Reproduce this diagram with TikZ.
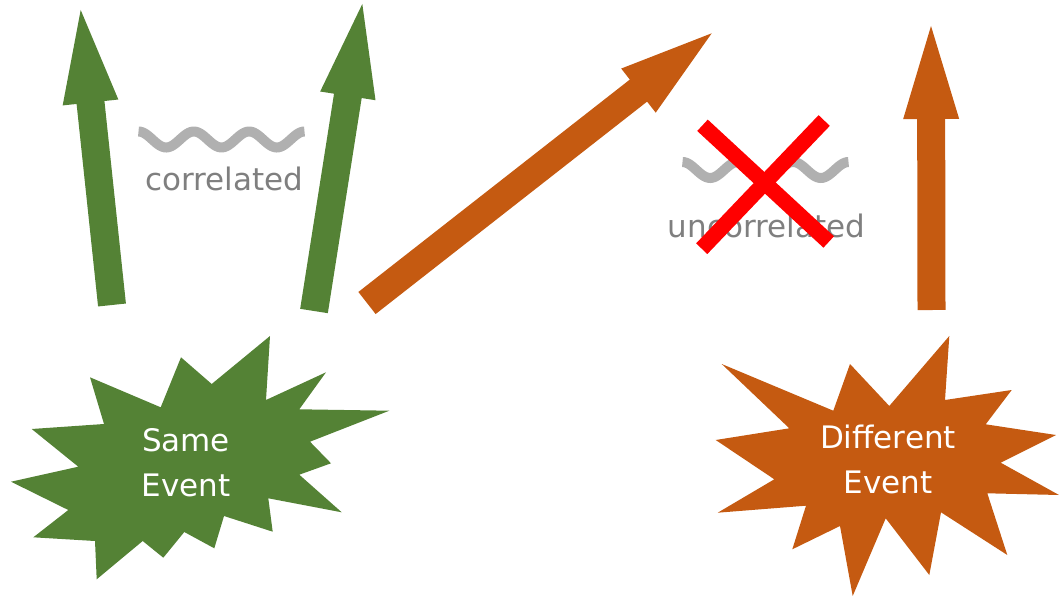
\documentclass[tikz,border=0pt]{standalone}
\usepackage{fontspec}
\setmainfont{DejaVu Sans}
\usepackage{xcolor}
\definecolor{leafgreen}{HTML}{548235}
\definecolor{rust}{HTML}{C55A11}
\definecolor{wavegray}{HTML}{B0B0B0}
\definecolor{labelgray}{HTML}{7F7F7F}
\definecolor{crossred}{HTML}{FF0000}
\usepackage{tikz}
\usetikzlibrary{calc}
\tikzset{
    green_burst/.style={fill=leafgreen},
    orange_burst/.style={fill=rust},
    event_text/.style={text=white, align=center, font=\fontsize{31}{45}\selectfont},
    corr_text/.style={text=labelgray, anchor=base, font=\fontsize{31}{37}\selectfont},
    wiggle/.style={draw=wavegray, line width=10pt},
    cross_line/.style={draw=crossred, line width=15.5pt}
}
% fat arrow: [colour] {tail} {tip}
\newcommand{\fatarrow}[3][]{%
  \coordinate (head_base) at ($(#3)!93pt!(#2)$);
  \fill[#1] ($(#2)!14pt!90:(#3)$) -- ($(head_base)!14pt!90:(#3)$) -- ($(head_base)!28pt!90:(#3)$) -- (#3)
    -- ($(head_base)!28pt!-90:(#3)$) -- ($(head_base)!14pt!-90:(#3)$) -- ($(#2)!14pt!-90:(#3)$) -- cycle;
}

\begin{document}
\begin{tikzpicture}[x=1pt, y=-1pt]
  \useasboundingbox (0,0) rectangle (1059,596);

  % Arrow end points
  \coordinate (gl_tail) at (112,305);
  \coordinate (gl_tip) at (80.7,10);
  \coordinate (gr_tail) at (314,311);
  \coordinate (gr_tip) at (362.3,4);
  \coordinate (od_tail) at (367,303);
  \coordinate (od_tip) at (711.7,33.3);
  \coordinate (ov_tail) at (931.5,310);
  \coordinate (ov_tip) at (931,26);

  \fatarrow[leafgreen]{gl_tail}{gl_tip}
  \fatarrow[leafgreen]{gr_tail}{gr_tip}
  \fatarrow[rust]{od_tail}{od_tip}
  \fatarrow[rust]{ov_tail}{ov_tip}

  % Same event burst
  \fill[green_burst] (270,336) -- (266,400) -- (326,372.3) -- (299.3,409.3) -- (389.3,410.7)
    -- (310,441.7) -- (331,463.3) -- (299.3,474.7) -- (341.7,512.3) -- (268.3,498.3)
    -- (272.7,531.7) -- (224,516) -- (214.3,548.3) -- (184.3,532) -- (163.3,557.7)
    -- (142.7,541) -- (96.7,579.3) -- (95,541) -- (33.3,537.3) -- (68.3,510)
    -- (11,481.7) -- (78.3,466.7) -- (31.7,429) -- (104,424) -- (90,377.3)
    -- (160.7,407.3) -- (181,357.3) -- (211.7,384) -- cycle;
  \node[event_text] (same_event) at (186,463) {Same\\Event};

  % Different event burst
  \fill[orange_burst] (949.3,336) -- (945,400) -- (1011.7,390) -- (985.7,424.3) -- (1056,435)
    -- (1000.7,462.7) -- (1059,495) -- (987.3,493.3) -- (1007.3,555) -- (941,512.3)
    -- (929.3,575) -- (885.7,518.3) -- (852.7,596) -- (840,526) -- (792.3,549.3)
    -- (806,505.7) -- (717.7,512.7) -- (774.3,479.3) -- (715.7,440) -- (789.3,428.3)
    -- (721.7,364) -- (833.3,410.7) -- (850,364) -- (889.3,406) -- cycle;
  \node[event_text] (diff_event) at (888,459.7) {Different\\Event};

  % Waves and labels
  \coordinate (wave_l) at (221.5,139.5);
  \coordinate (wave_r) at (765.5,170);
  \draw[wiggle, shift={(wave_l)}] plot[domain=0:3, samples=90, smooth] ({-83+166*\x/3}, {-8*cos(360*\x)});
  \draw[wiggle, shift={(wave_r)}] plot[domain=0:3, samples=90, smooth] ({-83+166*\x/3}, {-8*cos(360*\x)});
  \node[corr_text] (corr_lbl) at (224,190) {correlated};
  \node[corr_text] (uncorr_lbl) at (766.5,237) {uncorrelated};

  % Red cross
  \coordinate (x1a) at (702.5,125.3);
  \coordinate (x1b) at (828.7,242);
  \coordinate (x2a) at (824.2,120.5);
  \coordinate (x2b) at (701.7,248.7);
  \draw[cross_line] (x1a) -- (x1b);
  \draw[cross_line] (x2a) -- (x2b);

\end{tikzpicture}
\end{document}
